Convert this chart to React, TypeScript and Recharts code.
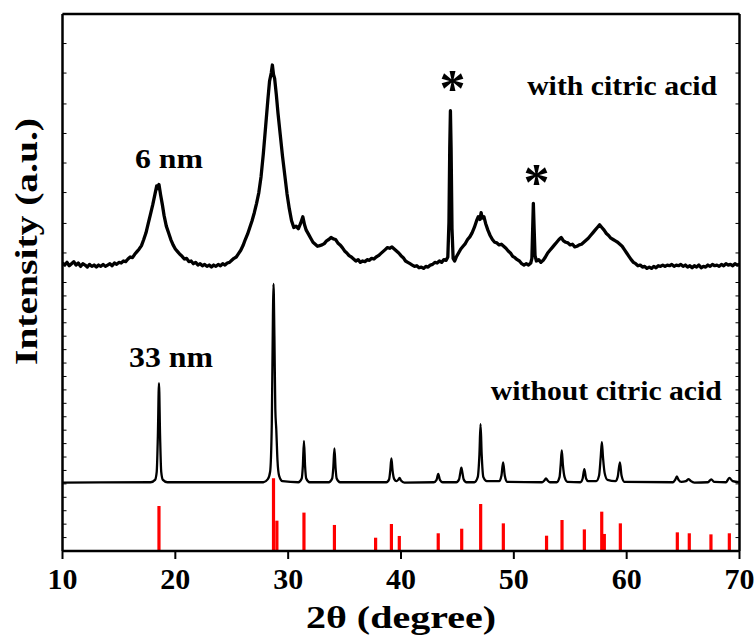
import { ComposedChart, Line, XAxis, YAxis, ReferenceLine, ReferenceDot, Label } from 'recharts';

// 2θ (degree), intensity (a.u.)
const withCitric: [number, number][] = [
  [10.0, 21.45], [10.2, 21.3], [10.4, 21.5], [10.6, 21.25], [10.8, 21.4], [11.0, 21.55], [11.2, 21.3], [11.4, 21.45],
  [11.6, 21.2], [11.8, 21.4], [12.0, 21.3], [12.2, 21.15], [12.4, 21.35], [12.6, 21.2], [12.8, 21.3], [13.0, 21.15],
  [13.2, 21.3], [13.4, 21.2], [13.6, 21.35], [13.8, 21.2], [14.0, 21.3], [14.2, 21.4], [14.4, 21.25], [14.6, 21.45],
  [14.8, 21.35], [15.0, 21.5], [15.2, 21.45], [15.4, 21.6], [15.6, 21.55], [15.8, 21.75], [16.0, 21.9], [16.2, 21.85],
  [16.4, 22.1], [16.6, 22.3], [16.8, 22.5], [17.0, 22.75], [17.2, 23.2], [17.4, 23.7], [17.6, 24.4], [17.8, 25.1],
  [18.0, 25.8], [18.2, 26.6], [18.35, 27.2], [18.45, 27.0], [18.55, 27.3], [18.7, 26.5], [18.85, 25.8], [19.0, 25.0],
  [19.2, 24.2], [19.4, 23.7], [19.6, 23.2], [19.8, 22.8], [20.0, 22.5], [20.2, 22.3], [20.4, 22.1], [20.6, 21.95],
  [20.8, 21.75], [21.0, 21.8], [21.2, 21.55], [21.4, 21.6], [21.6, 21.4], [21.8, 21.5], [22.0, 21.3], [22.2, 21.4],
  [22.4, 21.25], [22.6, 21.35], [22.8, 21.2], [23.0, 21.3], [23.2, 21.15], [23.4, 21.3], [23.6, 21.2], [23.8, 21.35],
  [24.0, 21.25], [24.2, 21.4], [24.4, 21.3], [24.6, 21.45], [24.8, 21.5], [25.0, 21.65], [25.2, 21.8], [25.4, 21.9],
  [25.6, 22.15], [25.8, 22.4], [26.0, 22.75], [26.2, 23.2], [26.4, 23.6], [26.6, 24.1], [26.8, 24.6], [27.0, 25.2],
  [27.2, 25.9], [27.4, 26.7], [27.6, 27.9], [27.8, 29.6], [28.0, 31.6], [28.2, 33.6], [28.35, 35.0], [28.5, 35.6],
  [28.6, 36.2], [28.7, 35.5], [28.8, 35.2], [28.95, 34.0], [29.1, 32.6], [29.3, 31.0], [29.5, 29.4], [29.7, 28.0],
  [29.9, 26.6], [30.1, 25.5], [30.3, 24.6], [30.5, 24.1], [30.7, 24.2], [30.9, 24.0], [31.1, 24.4], [31.3, 24.9],
  [31.45, 24.3], [31.6, 23.9], [31.8, 23.6], [32.0, 23.3], [32.2, 23.0], [32.4, 22.85], [32.6, 22.7], [32.8, 22.75],
  [33.0, 22.8], [33.2, 22.9], [33.4, 23.1], [33.6, 23.2], [33.8, 23.35], [34.0, 23.25], [34.2, 23.2], [34.4, 22.95],
  [34.6, 22.8], [34.8, 22.6], [35.0, 22.35], [35.2, 22.2], [35.4, 22.0], [35.6, 21.9], [35.8, 21.75], [36.0, 21.6],
  [36.2, 21.7], [36.4, 21.5], [36.6, 21.6], [36.8, 21.55], [37.0, 21.7], [37.2, 21.65], [37.4, 21.8], [37.6, 21.75],
  [37.8, 21.9], [38.0, 22.0], [38.2, 22.15], [38.4, 22.3], [38.6, 22.45], [38.8, 22.6], [39.0, 22.55], [39.2, 22.65],
  [39.4, 22.5], [39.6, 22.35], [39.8, 22.2], [40.0, 22.0], [40.2, 21.85], [40.4, 21.6], [40.6, 21.5], [40.8, 21.4],
  [41.0, 21.3], [41.2, 21.2], [41.4, 21.25], [41.6, 21.1], [41.8, 21.15], [42.0, 21.05], [42.2, 21.2], [42.4, 21.15],
  [42.6, 21.3], [42.8, 21.35], [43.0, 21.5], [43.2, 21.45], [43.4, 21.6], [43.6, 21.5], [43.8, 21.7], [44.0, 21.65],
  [44.15, 21.9], [44.25, 24.5], [44.32, 30.0], [44.38, 32.8], [44.44, 30.0], [44.52, 24.0], [44.62, 21.8], [44.75, 21.6],
  [44.9, 21.9], [45.1, 22.2], [45.3, 22.5], [45.5, 22.7], [45.7, 22.9], [45.9, 23.2], [46.1, 23.4], [46.3, 23.7],
  [46.5, 24.1], [46.7, 24.6], [46.85, 24.9], [47.0, 24.7], [47.1, 25.2], [47.2, 24.8], [47.35, 24.9], [47.5, 24.4],
  [47.7, 23.9], [47.9, 23.5], [48.1, 23.2], [48.3, 23.0], [48.5, 22.95], [48.7, 22.8], [48.9, 22.85], [49.1, 22.7],
  [49.3, 22.55], [49.5, 22.35], [49.7, 22.2], [49.9, 21.95], [50.1, 21.85], [50.3, 21.7], [50.5, 21.6], [50.7, 21.4],
  [50.9, 21.3], [51.1, 21.4], [51.3, 21.3], [51.5, 21.45], [51.6, 21.8], [51.67, 24.0], [51.73, 25.9], [51.8, 24.0],
  [51.88, 22.0], [52.0, 21.6], [52.2, 21.7], [52.4, 21.5], [52.6, 21.65], [52.8, 21.9], [53.0, 22.2], [53.2, 22.4],
  [53.4, 22.6], [53.6, 22.8], [53.8, 23.0], [54.0, 23.2], [54.2, 23.35], [54.4, 23.1], [54.6, 23.0], [54.8, 22.95],
  [55.0, 22.8], [55.2, 22.85], [55.4, 22.65], [55.6, 22.7], [55.8, 22.8], [56.0, 22.85], [56.2, 23.0], [56.4, 23.15],
  [56.6, 23.3], [56.8, 23.5], [57.0, 23.7], [57.2, 23.9], [57.4, 24.1], [57.6, 24.3], [57.8, 24.1], [58.0, 23.9],
  [58.2, 23.65], [58.4, 23.5], [58.6, 23.3], [58.8, 23.2], [59.0, 23.1], [59.2, 23.0], [59.4, 22.85], [59.6, 22.7],
  [59.8, 22.45], [60.0, 22.2], [60.2, 21.95], [60.4, 21.7], [60.6, 21.5], [60.8, 21.4], [61.0, 21.25], [61.2, 21.3],
  [61.4, 21.15], [61.6, 21.2], [61.8, 21.05], [62.0, 21.15], [62.2, 21.05], [62.4, 21.2], [62.6, 21.1], [62.8, 21.25],
  [63.0, 21.2], [63.2, 21.3], [63.4, 21.2], [63.6, 21.3], [63.8, 21.25], [64.0, 21.35], [64.2, 21.2], [64.4, 21.3],
  [64.6, 21.25], [64.8, 21.35], [65.0, 21.2], [65.2, 21.3], [65.4, 21.15], [65.6, 21.25], [65.8, 21.1], [66.0, 21.25],
  [66.2, 21.15], [66.4, 21.3], [66.6, 21.1], [66.8, 21.2], [67.0, 21.15], [67.2, 21.3], [67.4, 21.2], [67.6, 21.35],
  [67.8, 21.25], [68.0, 21.3], [68.2, 21.2], [68.4, 21.35], [68.6, 21.25], [68.8, 21.4], [69.0, 21.3], [69.2, 21.35],
  [69.4, 21.25], [69.6, 21.4], [69.8, 21.3], [70.0, 21.35],
];

const withoutCitric: [number, number][] = [
  [10, 5.1], [17.8, 5.12], [18.2, 5.3], [18.35, 5.9], [18.45, 8.5], [18.55, 12.5], [18.65, 8.5], [18.75, 5.9], [18.9, 5.3], [19.3, 5.12],
  [27.8, 5.12], [28.2, 5.35], [28.4, 5.9], [28.55, 9.5], [28.65, 17.5], [28.7, 19.9], [28.78, 16.0], [28.86, 10.6],
  [28.95, 9.0], [29.05, 6.8], [29.2, 5.6], [29.5, 5.2],
  [30.9, 5.12], [31.2, 5.4], [31.3, 6.3], [31.4, 8.2], [31.5, 6.3], [31.6, 5.4], [31.9, 5.12],
  [33.6, 5.12], [33.9, 5.4], [34.0, 6.2], [34.1, 7.65], [34.2, 6.2], [34.3, 5.4], [34.6, 5.12],
  [38.7, 5.12], [38.95, 5.35], [39.05, 6.0], [39.15, 6.9], [39.25, 6.0], [39.4, 5.35], [39.6, 5.2], [39.75, 5.3],
  [39.87, 5.45], [40.0, 5.25], [40.3, 5.1],
  [42.9, 5.12], [43.15, 5.3], [43.3, 5.75], [43.45, 5.3], [43.7, 5.12],
  [44.9, 5.12], [45.15, 5.35], [45.25, 5.8], [45.35, 6.2], [45.45, 5.8], [45.55, 5.35], [45.8, 5.12],
  [46.5, 5.12], [46.8, 5.5], [46.95, 7.2], [47.05, 9.45], [47.15, 7.2], [47.3, 5.5], [47.6, 5.2],
  [48.7, 5.2], [48.9, 5.6], [49.05, 6.6], [49.2, 5.6], [49.4, 5.15],
  [52.5, 5.12], [52.7, 5.25], [52.85, 5.4], [53.0, 5.25], [53.2, 5.12],
  [53.8, 5.12], [54.05, 5.5], [54.15, 6.4], [54.25, 7.5], [54.35, 6.4], [54.5, 5.5], [54.75, 5.15],
  [55.9, 5.12], [56.1, 5.4], [56.25, 6.1], [56.4, 5.4], [56.6, 5.2],
  [57.3, 5.2], [57.55, 5.6], [57.7, 7.0], [57.8, 8.1], [57.9, 7.0], [58.05, 5.8], [58.3, 5.3],
  [59.0, 5.2], [59.2, 5.5], [59.4, 6.6], [59.55, 5.6], [59.8, 5.15],
  [64.1, 5.12], [64.3, 5.3], [64.45, 5.55], [64.6, 5.3], [64.85, 5.15],
  [65.25, 5.2], [65.5, 5.36], [65.7, 5.2], [66.0, 5.1],
  [67.2, 5.12], [67.5, 5.34], [67.75, 5.15],
  [68.8, 5.12], [69.1, 5.44], [69.4, 5.2], [70, 5.12],
];

// reference pattern lines
const refTheta = [18.55, 28.7, 29.0, 31.4, 34.1, 37.75, 39.15, 39.85, 43.3, 45.38, 47.06, 49.07, 52.9, 54.27, 56.25, 57.79, 58.02, 59.44, 64.49, 65.55, 67.47, 69.1];
const refIntensity = [3.35, 5.42, 2.26, 2.86, 1.94, 0.99, 2.01, 1.12, 1.32, 1.66, 3.5, 2.06, 1.14, 2.31, 1.61, 2.93, 1.27, 2.06, 1.39, 1.32, 1.24, 1.32];

const xTicks = [10, 20, 30, 40, 50, 60, 70];
const yTicks = [0, 1, 2, 3, 4, 5, 6, 7, 8, 9, 10, 11, 12, 13, 14, 15, 16, 17, 18, 19, 20, 22.2, 24.4, 26.7, 28.9, 31.1, 33.3, 35.6, 37.8, 40];

const withData = withCitric.map(([x, y]) => ({ x, y }));
const withoutData = withoutCitric.map(([x, y]) => ({ x, y }));

const FONT = 'Liberation Serif';

const note = (text: string, size: number, len?: number) => (p: any) => (
  <text
    x={p.cx}
    y={p.cy}
    textAnchor="middle"
    fontFamily={FONT}
    fontWeight="bold"
    fontSize={size}
    fill="#000"
    textLength={len}
    lengthAdjust="spacingAndGlyphs"
  >
    {text}
  </text>
);

const XTick = ({ x, y, payload }: any) => (
  <text x={x} y={y} dy={24} textAnchor="middle" fontFamily={FONT} fontWeight="bold" fontSize={30} fill="#000">
    {payload.value}
  </text>
);

export default function App() {
  return (
    <div style={{ position: 'absolute', left: 0, top: 0, background: '#fff' }}>
      <ComposedChart width={756} height={639} margin={{ top: 0, right: 0, bottom: 0, left: 0 }}>
        <XAxis
          xAxisId="b"
          type="number"
          dataKey="x"
          domain={[10, 70]}
          ticks={xTicks}
          height={88}
          allowDataOverflow
          axisLine={{ stroke: '#000', strokeWidth: 2.5 }}
          tickLine={{ stroke: '#000', strokeWidth: 2 }}
          tickSize={8}
          tickMargin={6}
          tick={<XTick />}
        >
          <Label
            content={({ viewBox }: any) => (
              <text
                x={viewBox.x + viewBox.width / 2}
                y={viewBox.y + 77}
                textAnchor="middle"
                fontFamily={FONT}
                fontWeight="bold"
                fontSize={32}
                fill="#000"
                textLength={190}
                lengthAdjust="spacingAndGlyphs"
              >
                2θ (degree)
              </text>
            )}
          />
        </XAxis>
        <XAxis xAxisId="t" orientation="top" type="number" dataKey="x" domain={[10, 70]} height={14} tick={false} tickLine={false} axisLine={{ stroke: '#000', strokeWidth: 2.5 }} />
        <YAxis
          yAxisId="l"
          type="number"
          domain={[0, 40]}
          ticks={yTicks}
          width={62.5}
          allowDataOverflow
          axisLine={{ stroke: '#000', strokeWidth: 2.5 }}
          tickLine={{ stroke: '#000', strokeWidth: 1 }}
          tickSize={-4}
          tickFormatter={() => ''}
        >
          <Label
            content={({ viewBox }: any) => {
              const cx = 37;
              const cy = viewBox.y + 227.5;
              return (
                <text
                  x={cx}
                  y={cy}
                  transform={`rotate(-90 ${cx} ${cy})`}
                  textAnchor="middle"
                  fontFamily={FONT}
                  fontWeight="bold"
                  fontSize={31}
                  fill="#000"
                  textLength={247}
                  lengthAdjust="spacingAndGlyphs"
                >
                  Intensity (a.u.)
                </text>
              );
            }}
          />
        </YAxis>
        <YAxis
          yAxisId="r"
          orientation="right"
          type="number"
          domain={[0, 40]}
          ticks={yTicks}
          width={16.5}
          allowDataOverflow
          axisLine={{ stroke: '#000', strokeWidth: 2.5 }}
          tickLine={{ stroke: '#000', strokeWidth: 1 }}
          tickSize={-4}
          tickFormatter={() => ''}
        />
        {refTheta.map((t, i) => (
          <ReferenceLine
            key={i}
            xAxisId="b"
            yAxisId="l"
            segment={[{ x: t, y: 0 }, { x: t, y: refIntensity[i] }]}
            stroke="#ff0000"
            strokeWidth={3.2}
          />
        ))}
        <Line xAxisId="b" yAxisId="l" data={withoutData} dataKey="y" type="monotone" stroke="#000" strokeWidth={2.3} dot={false} isAnimationActive={false} />
        <Line xAxisId="b" yAxisId="l" data={withData} dataKey="y" type="linear" stroke="#000" strokeWidth={3.3} strokeLinejoin="round" dot={false} isAnimationActive={false} />
        <ReferenceDot xAxisId="b" yAxisId="l" x={19.44} y={28.53} r={0} shape={note('6 nm', 28, 68)} />
        <ReferenceDot xAxisId="b" yAxisId="l" x={19.62} y={13.7} r={0} shape={note('33 nm', 30, 84)} />
        <ReferenceDot xAxisId="b" yAxisId="l" x={59.6} y={33.97} r={0} shape={note('with citric acid', 28, 190)} />
        <ReferenceDot xAxisId="b" yAxisId="l" x={58.2} y={11.25} r={0} shape={note('without citric acid', 28, 231)} />
        <ReferenceDot xAxisId="b" yAxisId="l" x={44.56} y={33.15} r={0} shape={note('*', 52)} />
        <ReferenceDot xAxisId="b" yAxisId="l" x={52.0} y={26.18} r={0} shape={note('*', 52)} />
      </ComposedChart>
    </div>
  );
}
